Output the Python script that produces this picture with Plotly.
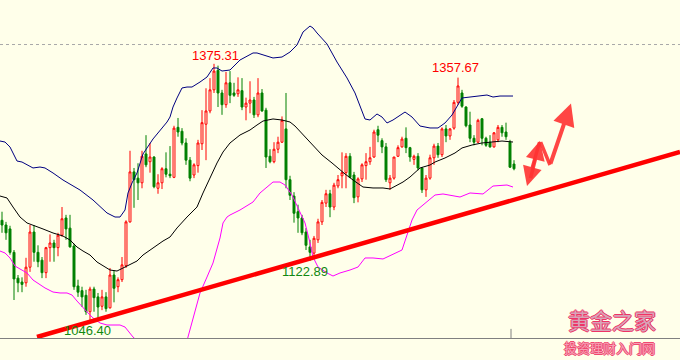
import plotly.graph_objects as go

# ---------------- data (prices) ----------------
opens = [1175,1169,1164,1134,1101,1096,1095,1115,1160,1134,1124,1108,1140,1146,1140,1156,1178,1165,1142,1091,
         1085,1079,1058,1087,1077,1065,1077,1063,1105,1090,1099,1117,1173,1237,1229,1223,1260,1250,1256,1216,
         1223,1241,1234,1230,1294,1289,1274,1252,1233,1245,1273,1298,1315,1342,1367,1338,1323,1351,1338,1337,
         1341,1320,1325,1329,1310,1338,1316,1257,1250,1266,1275,1292,1227,1206,1186,1178,1160,1141,1133,1150,
         1173,1197,1209,1192,1219,1232,1236,1257,1233,1205,1228,1245,1250,1256,1291,1277,1269,1223,1229,1257,
         1269,1280,1268,1253,1257,1242,1214,1229,1255,1270,1259,1292,1283,1293,1326,1338,1320,1297,1280,1275,
         1305,1280,1275,1269,1278,1294,1288,1275,1247]
highs = [1186,1173,1168,1137,1105,1102,1127,1169,1169,1143,1128,1141,1157,1150,1159,1192,1182,1182,1145,1099,
         1090,1086,1090,1090,1082,1086,1083,1114,1111,1102,1128,1175,1264,1242,1248,1264,1284,1274,1257,1234,
         1243,1262,1270,1296,1306,1293,1280,1256,1248,1278,1316,1344,1357,1375.31,1373,1342,1365,1366,1351,1358,
         1357,1332,1353,1333,1357,1343,1319,1266,1275,1282,1308,1338,1232,1211,1195,1182,1165,1150,1155,1177,
         1201,1214,1214,1223,1233,1262,1261,1261,1237,1230,1248,1261,1269,1291,1296,1280,1274,1233,1256,1271,
         1282,1294,1269,1259,1261,1243,1233,1259,1273,1274,1294,1297,1293,1329,1357.67,1342,1321,1314,1284,1305,
         1306,1282,1284,1288,1297,1297,1300,1278,1252]
lows = [1159,1150,1131,1073,1083,1083,1090,1109,1122,1115,1101,1101,1122,1122,1129,1154,1150,1140,1086,1077,
        1064,1054,1046.40,1058,1050,1060,1058,1062,1070,1083,1096,1114,1172,1191,1201,1216,1243,1236,1216,1209,
        1215,1230,1229,1229,1282,1271,1246,1225,1229,1236,1265,1252,1312,1338,1320,1310,1319,1325,1333,1333,
        1316,1303,1312,1306,1307,1314,1242,1248,1248,1261,1274,1216,1201,1172,1159,1156,1137,1122.89,1129,1146,
        1169,1192,1179,1188,1216,1216,1216,1229,1197,1198,1224,1227,1246,1255,1275,1261,1224,1214,1227,1256,
        1268,1261,1250,1246,1239,1210,1205,1227,1246,1255,1256,1275,1278,1291,1323,1319,1294,1275,1271,1274,
        1271,1269,1268,1268,1275,1282,1278,1242,1239]
closes = [1169,1159,1134,1100,1095,1093,1115,1160,1134,1122,1108,1140,1146,1140,1156,1177,1164,1141,1090,1083,
          1077,1058,1087,1076,1064,1077,1062,1105,1088,1099,1118,1173,1237,1227,1223,1257,1246,1256,1218,1223,
          1241,1234,1232,1293,1288,1274,1252,1229,1246,1274,1300,1315,1342,1366,1338,1323,1351,1335,1335,1342,
          1320,1325,1329,1310,1338,1315,1256,1250,1266,1275,1303,1227,1207,1184,1178,1159,1143,1134,1152,1173,
          1198,1209,1192,1220,1227,1236,1257,1230,1204,1228,1246,1250,1255,1288,1284,1269,1227,1229,1256,1268,
          1279,1268,1256,1257,1242,1214,1229,1255,1270,1259,1292,1283,1292,1326,1347,1321,1296,1280,1275,1303,
          1280,1271,1269,1287,1294,1287,1282,1243,1241]
bars = list(range(len(opens)))

# Bollinger bands (bar index, price)
upper_x = [-0.5,0.75,2,3.75,5,7.75,9.5,10.75,12.75,14.5,15.25,19.5,22.75,26.25,28.25,29.5,30.75,31.5,32.5,33.75,
           35.25,37.75,39.5,41.25,42,42.75,43.75,45,46.25,47.5,49.5,51.25,52.75,53.75,55,57,59.5,62.75,63.75,65.25,
           67.75,70,72,73.75,75.25,77,77.75,78.75,81.25,83.75,86.25,88.25,90,90.75,92,93.75,95,96.25,97.75,100.75,
           102.5,104.5,107,109,110.75,112.5,115,117,121.25,122.75,124.5,127.75]
upper_y = [1276.5,1275.2,1268.8,1250.9,1249.6,1242,1243.2,1242,1235.6,1229.2,1226.6,1213.8,1201,1184.4,1179.2,1179.2,
           1188.2,1210,1222.8,1235.6,1259.9,1279.1,1289.3,1300.8,1307.2,1320,1331.6,1344.4,1345.6,1345.6,1352,1358.4,
           1370,1370,1366.1,1367.4,1380.2,1389.2,1389.2,1386.6,1382.8,1384,1390.4,1399.4,1416,1423.7,1421.2,1414.8,
           1400.7,1377.6,1357.2,1338,1313.6,1304.7,1303.4,1311.1,1307.2,1299.6,1303.4,1313.6,1307.2,1295.7,1293.2,
           1293.2,1299.6,1309.8,1331.6,1332.8,1335.4,1332.8,1334.1,1334.1]
middle_x = [-0.5,1.25,2.75,4.5,6.25,7.75,10.25,12.75,15.25,17,18.75,20.25,22,23.75,25.25,27,28.75,30.25,32,33.75,
            35.25,37.75,40.25,42,43.75,46.25,48.75,50.25,51.5,53.75,55.25,57,59.5,62,63.75,65.25,67.75,70,72,73.25,
            76.5,80,82.5,84.5,85.75,87.75,90.25,92.75,95.25,97,98.75,100.25,102,104.5,107,108.25,110.75,113.25,115,
            117.5,120,122.5,125,127.75]
middle_y = [1206.1,1203.6,1192,1179.2,1171.6,1169,1163.9,1158.8,1154.9,1149.8,1140.8,1135.7,1130.6,1121.6,1116.5,
            1111.4,1110.1,1114,1117.8,1122.9,1130.6,1139.6,1148.5,1153.6,1165.2,1179.2,1192,1210,1224,1248.4,1262.4,
            1274,1284.2,1290.6,1297,1302.1,1304.7,1303.4,1300.8,1295.7,1277.8,1258.6,1248.4,1239.4,1234.3,1226.6,
            1217.6,1216.4,1216.4,1215.1,1220.2,1224,1230.4,1242,1245.8,1249.6,1254.8,1261.2,1267.6,1271.4,1274,
            1275.2,1276.5,1275.2]
lower_x = [-0.5,0.75,2,3.25,4.5,6.25,7.75,9.5,10.75,12.75,14.5,16.25,17.5,18.75,20.25,21.5,22.75,24.5,26.25,29.5,
           30.75,32,32.75,37,42,45.75,46.5,47.75,49.5,51.25,52.75,54.5,55.25,56.25,57,59.5,62.75,64.5,66.25,67.75,
           69.5,70.75,72.5,74,75.75,77,77.75,79,81.25,82.75,84.5,87,89,90.75,92.75,95.25,97.75,100,101.25,102.5,
           103.75,105.25,107,108.25,110.25,112,114.5,117,120.25,122.75,126.25,127.75]
lower_y = [1135.7,1133.2,1126.8,1116.5,1112.7,1107.6,1098.6,1092.2,1088.4,1083.2,1082,1082,1079.4,1071.7,1062.8,
           1056.4,1050,1043.6,1041,1041,1038.4,1030.8,1025.6,1006.4,998.8,1011.6,1025.6,1047.4,1082,1102.4,1120.4,
           1152.4,1171.6,1179.2,1181.8,1188.2,1198.4,1210,1217.6,1224,1224,1220.2,1207.4,1190.8,1171.6,1146,1128,
           1115.2,1107.6,1103.7,1107.6,1111.4,1115.2,1126.8,1126.8,1125.5,1131.9,1137,1156.2,1175.4,1188.2,1194.6,
           1201,1207.4,1208.7,1207.4,1204.8,1210,1208.7,1218.9,1220.2,1217.6]

# drawn support line (two anchor points, bar index / price)
trend_x = [8.75, 169.5]
trend_y = [1025.6, 1262.4]
# drawn forecast zigzag (bar index / price)
zig_x = [131.25, 134.5, 137.0, 142.25]
zig_y = [1219.0, 1277.0, 1245.8, 1324.5]
level_1400 = 1400

marks = [("1375.31", 53.375, 1385.96, "#FF0000"),
         ("1357.67", 113.375, 1370.0, "#FF0000"),
         ("1122.89", 75.625, 1110.1, "#118811"),
         ("1046.40", 21.375, 1034.6, "#118811")]

BG = "#FFFFEA"
X_RANGE = [-0.5, 169.5]
Y_RANGE = [1024.36, 1457]

fig = go.Figure()
fig.add_trace(go.Scatter(x=upper_x, y=upper_y, mode="lines", line=dict(color="#000080", width=1), hoverinfo="skip"))
fig.add_trace(go.Scatter(x=middle_x, y=middle_y, mode="lines", line=dict(color="#000000", width=1), hoverinfo="skip"))
fig.add_trace(go.Scatter(x=lower_x, y=lower_y, mode="lines", line=dict(color="#FF00FF", width=1), hoverinfo="skip"))
fig.add_trace(go.Candlestick(
    x=bars, open=opens, high=highs, low=lows, close=closes,
    increasing=dict(line=dict(color="#FF0000", width=1), fillcolor=BG),
    decreasing=dict(line=dict(color="#008000", width=1), fillcolor="#008000"),
    whiskerwidth=0, hoverinfo="skip"))

shapes = [
    dict(type="line", xref="paper", x0=0, x1=1, yref="y", y0=level_1400, y1=level_1400,
         line=dict(color="#A8A8A8", width=1, dash="dot")),
    dict(type="line", xref="x", x0=trend_x[0], x1=trend_x[1], yref="y", y0=trend_y[0], y1=trend_y[1],
         line=dict(color="#FF0000", width=4.5)),
    dict(type="line", xref="x", x0=127.25, x1=127.25, yref="paper", y0=0, y1=0.027,
         line=dict(color="#808080", width=1)),
]

annotations = []
for txt, xx, yy, col in marks:
    annotations.append(dict(x=xx, y=yy, xref="x", yref="y", text=txt, showarrow=False,
                            xanchor="center", yanchor="middle",
                            font=dict(family="Liberation Sans, Arial", size=13, color=col)))

# zigzag arrows
ARROW = "rgba(255,50,50,0.9)"
def arrow(x0, y0, x1, y1, head=True, width=4):
    annotations.append(dict(x=x1, y=y1, ax=x0, ay=y0, xref="x", yref="y", axref="x", ayref="y",
                            text="", showarrow=True, arrowhead=2 if head else 0, arrowsize=1.1,
                            arrowwidth=width, arrowcolor=ARROW, standoff=0, startstandoff=0))
arrow(zig_x[1], zig_y[1], zig_x[0], zig_y[0], width=3.5)
arrow(zig_x[0] + 0.8, zig_y[0] + 8, zig_x[1], zig_y[1], width=3.5)
arrow(zig_x[1], zig_y[1], zig_x[2], zig_y[2], head=False, width=3.5)
arrow(zig_x[2], zig_y[2], zig_x[3], zig_y[3], width=4)

outline = "1px 0 0 #EE3366, -1px 0 0 #EE3366, 0 1px 0 #EE3366, 0 -1px 0 #EE3366"
outline2 = "1px 0 0 #F04870, -1px 0 0 #F04870, 0 1px 0 #F04870, 0 -1px 0 #F04870"
annotations.append(dict(x=0.9, y=0.0, xref="paper", yref="paper", yshift=1, text="黄金之家",
                        showarrow=False, xanchor="center", yanchor="bottom",
                        font=dict(family="Noto Sans CJK SC", size=22, color="#D8A4B8", shadow=outline)))
annotations.append(dict(x=0.897, y=0.0, xref="paper", yref="paper", yshift=-21, text="投资理财入门网",
                        showarrow=False, xanchor="center", yanchor="bottom",
                        font=dict(family="Noto Sans CJK SC", size=13, color="#F4A0B4", shadow=outline2)))

fig.update_layout(
    width=680, height=360, margin=dict(l=0, r=0, t=0, b=22),
    paper_bgcolor=BG, plot_bgcolor=BG, showlegend=False,
    shapes=shapes, annotations=annotations,
    xaxis=dict(range=X_RANGE, showgrid=False, zeroline=False, showticklabels=False, ticks="",
               showline=True, linecolor="#808080", linewidth=1, rangeslider=dict(visible=False), fixedrange=True),
    yaxis=dict(range=Y_RANGE, showgrid=False, zeroline=False, showticklabels=False, ticks="",
               showline=False, fixedrange=True),
)
fig.write_html("out.html", config=dict(displayModeBar=False),
               post_script="document.body.style.margin='0';document.body.style.overflow='hidden';")
